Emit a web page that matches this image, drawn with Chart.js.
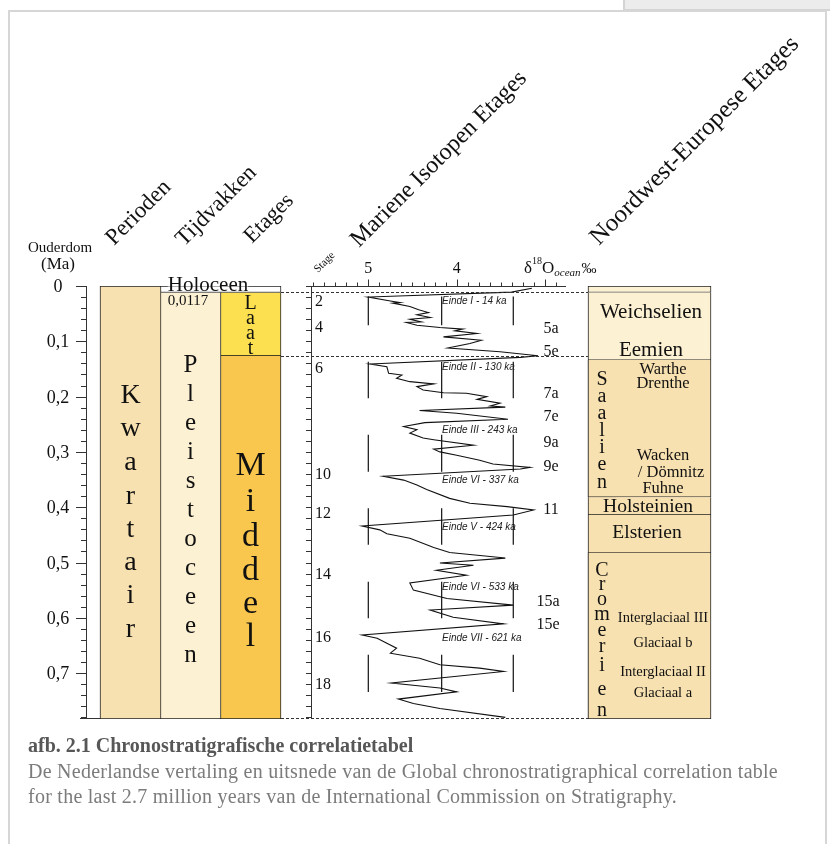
<!DOCTYPE html>
<html lang="nl">
<head>
<meta charset="utf-8">
<title>Chronostratigrafische correlatietabel</title>
<script src="https://cdn.jsdelivr.net/npm/chart.js@4.4.1/dist/chart.umd.min.js"></script>
<style>
html,body{margin:0;padding:0;background:#fff;}
body{width:830px;height:844px;position:relative;overflow:hidden;}
#topbox{position:absolute;left:623px;top:-2px;width:215px;height:9px;background:#ececec;border:2px solid #d4d4d4;}
#card{position:absolute;left:8px;top:10px;width:815px;height:900px;border:2px solid #d6d6d6;}
#chart{position:absolute;left:0;top:0;}
#caption{position:absolute;left:28px;top:733px;font-family:'Liberation Serif',serif;font-size:20px;letter-spacing:0.25px;line-height:25.5px;color:#7b7b7b;white-space:nowrap;}
#caption b{color:#575757;letter-spacing:0;}
</style>
</head>
<body>
<div id="topbox"></div>
<div id="card"></div>
<canvas id="chart" width="830" height="844"></canvas>
<div id="caption"><b>afb. 2.1 Chronostratigrafische correlatietabel</b><br>De Nederlandse vertaling en uitsnede van de Global chronostratigraphical correlation table<br>for the last 2.7 million years van de International Commission on Stratigraphy.</div>
<script>
// Chronostratigrafische correlatietabel — kolommen als zwevende staven, δ18O-curve als lijn.

// ---- data, ouderdom in Ma ----
const AGE_MAX=0.783;
const AGE_TICKS=[0,0.1,0.2,0.3,0.4,0.5,0.6,0.7];
const D18O_TICKS=[5,4];

const PERIOD_NAMES=['Kwartair'];
const PERIOD_RANGES=[[0,AGE_MAX]];
const EPOCH_NAMES=['Holoceen','Pleistoceen'];
const EPOCH_RANGES=[[0,0.0117],[0.0117,AGE_MAX]];
const STAGE_NAMES=['Laat','Middel'];
const STAGE_RANGES=[[0.0117,0.126],[0.126,AGE_MAX]];

const NW_RANGES=[[0,0.0117],[0.0117,0.134],[0.134,0.382],[0.382,0.414],[0.414,0.482],[0.482,AGE_MAX]];
const NW_SPLIT_RANGES=[[0.134,0.382],[0.482,AGE_MAX]];   // Saalien, Cromerien
const NW_LABELS=['Weichselien','Eemien','Holsteinien','Elsterien'];
const NW_LABEL_AGES=[0.058,0.127,0.408,0.456];
const NW_SUB_NAMES=['Warthe','Drenthe','Wacken','/ Dömnitz','Fuhne','Interglaciaal III','Glaciaal b','Interglaciaal II','Glaciaal a'];
const NW_SUB_AGES=[0.160,0.185,0.315,0.345,0.375,0.607,0.652,0.706,0.743];

const ISO_AGE=[0.004,0.011,0.020,0.027,0.030,0.031,0.037,0.043,0.048,0.052,0.057,0.060,0.065,0.066,0.071,
  0.075,0.078,0.081,0.086,0.092,0.098,0.104,0.112,0.119,0.126,0.129,0.141,0.146,0.158,0.161,0.167,0.173,
  0.177,0.182,0.188,0.193,0.194,0.200,0.205,0.212,0.217,0.219,0.225,0.230,0.241,0.247,0.254,0.260,0.266,
  0.275,0.278,0.288,0.295,0.300,0.306,0.315,0.322,0.328,0.331,0.344,0.351,0.360,0.368,0.384,0.393,0.399,
  0.405,0.414,0.434,0.441,0.448,0.456,0.468,0.473,0.482,0.492,0.501,0.505,0.514,0.523,0.537,0.550,0.565,
  0.577,0.586,0.599,0.611,0.631,0.637,0.646,0.655,0.664,0.673,0.685,0.691,0.697,0.718,0.727,0.734,0.747,
  0.755,0.764,0.780];
const ISO_D18O=[3.15,3.38,5.00,4.75,4.64,4.72,4.53,4.43,4.32,4.45,4.30,4.53,4.40,4.57,4.45,
  4.19,3.93,4.02,3.77,4.15,3.72,3.85,4.10,3.51,3.08,3.28,4.98,4.79,4.77,4.62,4.68,4.53,
  4.26,4.45,4.38,4.15,3.89,3.66,3.77,3.51,3.62,3.45,4.42,4.00,3.42,4.36,4.60,4.45,4.53,
  4.38,4.26,3.81,4.26,4.19,4.00,3.74,3.59,3.17,3.28,4.83,4.60,4.45,4.34,4.08,3.85,3.43,
  3.13,3.36,5.07,4.87,4.79,4.53,4.34,4.26,4.08,3.45,4.19,3.81,4.23,3.89,4.53,4.49,4.11,
  3.36,4.30,4.04,3.47,5.07,4.90,4.79,4.68,4.75,4.42,4.19,3.74,3.47,4.74,4.19,4.00,4.66,
  4.49,4.19,3.45];

const MIS_LEFT=['2','4','6','10','12','14','16','18'];
const MIS_LEFT_AGE=[0.028,0.076,0.149,0.342,0.412,0.523,0.637,0.721];
const MIS_RIGHT=['5a','5e','7a','7e','9a','9e','11','15a','15e'];
const MIS_RIGHT_AGE=[0.078,0.119,0.195,0.236,0.284,0.327,0.405,0.571,0.613];
const EINDE_LABELS=['Einde I - 14 ka','Einde II - 130 ka','Einde III - 243 ka','Einde VI - 337 ka','Einde V - 424 ka','Einde VI - 533 ka','Einde VII - 621 ka'];
const EINDE_AGE=[0.0284,0.147,0.260,0.351,0.437,0.544,0.637];
const GUIDE_D18O=[5,4.17,3.36];
const GUIDE_RANGES=[[0.019,0.071],[0.137,0.203],[0.269,0.336],[0.402,0.468],[0.535,0.601],[0.667,0.734]];
const BOUNDARY_AGES=[0.0117,0.126,AGE_MAX];

// ---- layout (pixels) ----
const W=830,H=844,TOP=286,BOTTOM=719;
const COL={perioden:[100,161],tijdvakken:[160,221],etages:[220,281],holoceen:[160,281],nw:[588,711],nwName:[588,616]};
const ISO_LEFT=311.5, ISO_RIGHT=566, D5_PX=368.3, PX_PER_PERMIL=88.4;
const SERIF='"Liberation Serif","Times New Roman",serif';
const INK='#111', LINE='#222';
const TAN='#f8e1b0', CREAM='#fdf1d3', LAAT='#fde04f', MIDDEL='#f9c74e';

function boxes(col,ranges,colors){
  const [l,r]=COL[col];
  return {type:'bar',xAxisID:'lay',yAxisID:'age',grouped:false,
    data:ranges.map(rg=>({x:(l+r)/2,y:rg})),
    barThickness:r-l,backgroundColor:colors,borderColor:LINE,borderSkipped:false,
    borderWidth:c=>{const rg=ranges[c.dataIndex]||[0];return {top:rg[0]===0?1:0,right:1,bottom:1,left:1};}};
}

const guideSets=GUIDE_D18O.map(d=>({type:'line',xAxisID:'d18',yAxisID:'age',
  data:GUIDE_RANGES.flatMap(([a,b])=>[{x:d,y:a},{x:d,y:b},{x:null,y:null}]),
  borderColor:INK,borderWidth:1.2,pointRadius:0,spanGaps:false}));

// letters stacked vertically in the narrow columns
const STACKS=[
  {text:'Kwartair',x:130.5,size:28,base:[403,436,470,504,537,570,603,637]},
  {text:'Pleistoceen',x:190.5,size:25,base:[372,401,430,459,488,517,546,575,604,633,662]},
  {text:'Laat',x:250.5,size:20,base:[309,324,339,354]},
  {text:'Middel',x:250.5,size:34,base:[475,511,546,580,613,646]},
  {text:'Saalien',x:602,size:20,base:[385,402,419,436,453,470,488]},
  {text:'Cromerien',x:602,size:20,base:[576,590,605,620,636,652,671,695,716]}
];
const HEADERS=[['Perioden',114,246,23],['Tijdvakken',184,247,23],['Etages',252,244,22.5],
  ['Mariene Isotopen Etages',359,248,24],['Noordwest-Europese Etages',599,246,25]];

const stratPlugin={
  id:'strat',
  afterDatasetsDraw(chart){
    const ctx=chart.ctx, age=chart.scales.age, d18=chart.scales.d18;
    const Y=a=>age.getPixelForValue(a), X=v=>d18.getPixelForValue(v);
    const seg=(x1,y1,x2,y2)=>{ctx.beginPath();ctx.moveTo(x1,y1);ctx.lineTo(x2,y2);ctx.stroke();};
    const px=v=>Math.round(v)+0.5;
    ctx.save();
    ctx.fillStyle=INK;ctx.strokeStyle='#333';ctx.lineWidth=1;

    // ouderdom-as
    seg(86.5,Y(0),86.5,Y(AGE_MAX));
    for(let k=0;k*0.02<=AGE_MAX+1e-9;k++){const py=px(Y(k*0.02));seg(k%5===0?76:81,py,86.5,py);}
    seg(80,Y(AGE_MAX)-0.5,100,Y(AGE_MAX)-0.5);
    ctx.font='18px '+SERIF;ctx.textAlign='center';ctx.textBaseline='alphabetic';
    AGE_TICKS.forEach(a=>ctx.fillText(a===0?'0':a.toFixed(1).replace('.',','),58,Y(a)+6));
    ctx.font='15px '+SERIF;ctx.fillText('Ouderdom',60,252);
    ctx.font='17px '+SERIF;ctx.fillText('(Ma)',58,269);

    // isotopen-paneel: assen
    seg(ISO_LEFT,Y(0),ISO_LEFT,Y(AGE_MAX));
    seg(306,px(Y(0)),ISO_RIGHT,px(Y(0)));
    for(let k=1;k*0.02<=AGE_MAX;k++){const py=px(Y(k*0.02));seg(306,py,ISO_LEFT,py);}
    for(let v=5.625;v>=2.85;v-=0.125){
      const x=px(X(v));const maj=Math.abs(v-Math.round(v))<1e-6;
      seg(x,px(Y(0)),x,px(Y(0))-(maj?7:4));
    }
    ctx.font='16px '+SERIF;ctx.textAlign='center';
    D18O_TICKS.forEach(v=>ctx.fillText(String(v),X(v),273));
    ctx.textAlign='left';
    let tx=524;const tb=273;
    ctx.font='17px '+SERIF;ctx.fillText('δ',tx,tb);tx+=ctx.measureText('δ').width;
    ctx.font='10px '+SERIF;ctx.fillText('18',tx,tb-9);tx+=ctx.measureText('18').width;
    ctx.font='17px '+SERIF;ctx.fillText('O',tx,tb);tx+=ctx.measureText('O').width;
    ctx.font='italic 11px '+SERIF;ctx.fillText('ocean',tx,tb+3);tx+=ctx.measureText('ocean').width+1;
    ctx.font='15px '+SERIF;ctx.fillText('‰',tx,tb);

    // gestippelde grenzen
    ctx.setLineDash([3,2]);
    BOUNDARY_AGES.forEach(a=>{const py=a===AGE_MAX?Y(a)-0.5:px(Y(a));seg(281,py,COL.nw[0],py);});
    ctx.setLineDash([]);

    // stage-nummers en eindes
    ctx.textBaseline='middle';ctx.font='16px '+SERIF;ctx.textAlign='left';
    MIS_LEFT.forEach((s,i)=>ctx.fillText(s,315,Y(MIS_LEFT_AGE[i])));
    ctx.textAlign='center';
    MIS_RIGHT.forEach((s,i)=>ctx.fillText(s,s.length>2?548:551,Y(MIS_RIGHT_AGE[i])));
    ctx.font='italic 10px "Liberation Sans",Arial,sans-serif';ctx.textAlign='left';ctx.fillStyle='#222';
    EINDE_LABELS.forEach((s,i)=>ctx.fillText(s,442,Y(EINDE_AGE[i])));
    ctx.fillStyle=INK;ctx.textBaseline='alphabetic';

    // Holoceen / 0,0117
    ctx.font='21px '+SERIF;ctx.textAlign='center';
    const hw=ctx.measureText('Holoceen').width;
    ctx.fillStyle='#fff';ctx.fillRect(208-hw/2,274,hw,Y(0)-274+0.5);
    ctx.fillStyle=INK;ctx.fillText('Holoceen',208,291);
    ctx.font='15px '+SERIF;ctx.fillText('0,0117',188,305);

    // letterstapels
    STACKS.forEach(s=>{ctx.font=s.size+'px '+SERIF;[...s.text].forEach((ch,i)=>ctx.fillText(ch,s.x,s.base[i]));});

    // NW-Europese etages
    ctx.font='21px '+SERIF;
    ctx.fillText(NW_LABELS[0],651,Y(NW_LABEL_AGES[0]));
    ctx.fillText(NW_LABELS[1],651,Y(NW_LABEL_AGES[1]));
    ctx.font='19.5px '+SERIF;
    ctx.fillText(NW_LABELS[2],648,Y(NW_LABEL_AGES[2]));
    ctx.fillText(NW_LABELS[3],647,Y(NW_LABEL_AGES[3]));
    NW_SUB_NAMES.forEach((s,i)=>{
      ctx.font=(i<5?'16.5px ':'14.5px ')+SERIF;
      ctx.fillText(s,s.startsWith('/')?671:663,Y(NW_SUB_AGES[i]));
    });

    // schuine kolomkoppen
    ctx.textAlign='left';
    HEADERS.forEach(([t,x,y,sz])=>{ctx.save();ctx.font=sz+'px '+SERIF;ctx.translate(x,y);ctx.rotate(-Math.PI/4);ctx.fillText(t,0,0);ctx.restore();});
    ctx.font='11px '+SERIF;
    ctx.save();ctx.translate(318,273);ctx.rotate(-Math.PI/4);ctx.fillText('Stage',0,0);ctx.restore();
    ctx.restore();
  }
};

new Chart(document.getElementById('chart'),{
  type:'bar',
  data:{datasets:[
    boxes('perioden',PERIOD_RANGES,[TAN]),
    boxes('holoceen',EPOCH_RANGES.slice(0,1),['#ffffff']),
    boxes('tijdvakken',EPOCH_RANGES.slice(1),[CREAM]),
    boxes('etages',STAGE_RANGES,[LAAT,MIDDEL]),
    boxes('nw',NW_RANGES,[CREAM,CREAM,TAN,TAN,TAN,TAN]),
    boxes('nwName',NW_SPLIT_RANGES,['rgba(0,0,0,0)','rgba(0,0,0,0)']),
    ...guideSets,
    {type:'line',xAxisID:'d18',yAxisID:'age',data:ISO_AGE.map((a,i)=>({x:ISO_D18O[i],y:a})),
      borderColor:INK,borderWidth:1.1,pointRadius:0,tension:0,fill:false}
  ]},
  options:{
    responsive:false,animation:false,events:[],
    layout:{padding:{top:TOP,bottom:H-BOTTOM,left:0,right:0}},
    plugins:{legend:{display:false},tooltip:{enabled:false}},
    scales:{
      lay:{type:'linear',axis:'x',min:0,max:W,offset:false,display:false},
      d18:{type:'linear',axis:'x',reverse:true,offset:false,display:false,
        min:5-(W-D5_PX)/PX_PER_PERMIL,max:5+D5_PX/PX_PER_PERMIL},
      age:{type:'linear',axis:'y',reverse:true,min:0,max:AGE_MAX,display:false}
    }
  },
  plugins:[stratPlugin]
});
</script>
</body>
</html>
